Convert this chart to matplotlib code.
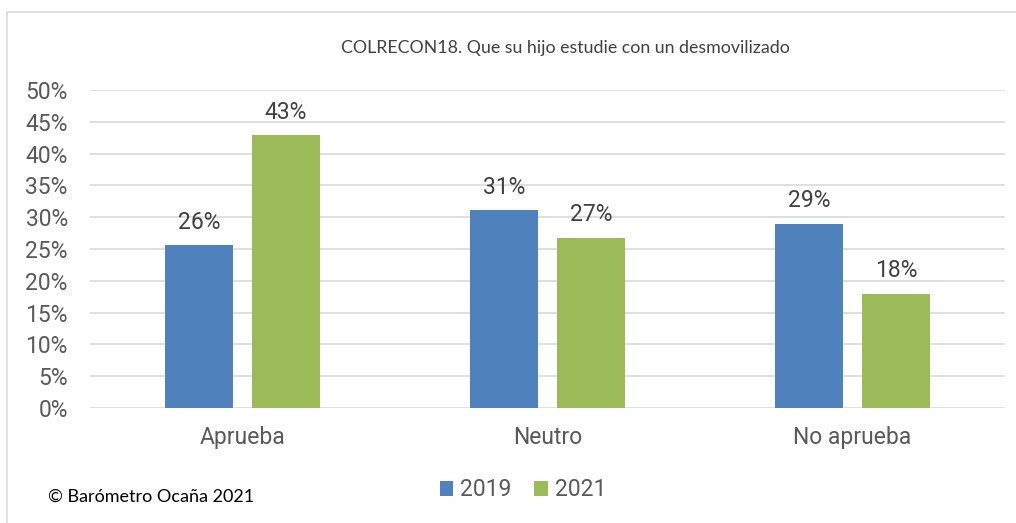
import matplotlib.pyplot as plt
from matplotlib.patches import Rectangle
import numpy as np

# Data
categories = ["Aprueba", "Neutro", "No aprueba"]
values_2019 = [25.6, 31.1, 29.0]
values_2021 = [42.9, 26.8, 18.0]
labels_2019 = ["26%", "31%", "29%"]
labels_2021 = ["43%", "27%", "18%"]
series_names = ["2019", "2021"]

blue = "#4F81BD"
green = "#9BBB59"
text_grey = "#595959"
fs = 16.5

fig = plt.figure(figsize=(10.16, 5.23), dpi=100)
ax = fig.add_axes([90 / 1016, 1 - 408 / 523, 915 / 1016, 318 / 523])

x = np.arange(len(categories))
w = 0.223
off = 0.143
b1 = ax.bar(x - off, values_2019, w, color=blue, label=series_names[0], zorder=3)
b2 = ax.bar(x + off, values_2021, w, color=green, label=series_names[1], zorder=3)

for bars, labs in ((b1, labels_2019), (b2, labels_2021)):
    for bar, lab in zip(bars, labs):
        ax.annotate(lab, (bar.get_x() + bar.get_width() / 2, bar.get_height()),
                    xytext=(0, 8), textcoords="offset points", ha="center", va="bottom",
                    fontsize=fs, color="#404040", family="Roboto")

ax.set_xlim(-0.5, 2.5)
ax.set_ylim(0, 50)
ax.set_yticks(range(0, 51, 5))
ax.set_yticklabels([f"{v}%" for v in range(0, 51, 5)])
ax.set_xticks(x)
ax.set_xticklabels(categories)
ax.yaxis.grid(True, color="#D9D9D9", linewidth=1.2, zorder=0)
ax.set_axisbelow(True)
for s in ax.spines.values():
    s.set_visible(False)
ax.tick_params(length=0, labelsize=fs, labelcolor=text_grey)
ax.tick_params(axis="y", pad=16)
ax.tick_params(axis="x", pad=13)
for t in ax.get_xticklabels() + ax.get_yticklabels():
    t.set_family("Roboto")

fig.text(565 / 1016, 1 - 48 / 523, "COLRECON18. Que su hijo estudie con un desmovilizado",
         ha="center", va="center", fontsize=12.8, color="#404040", family="Lato")
fig.text(48 / 1016, 1 - 497 / 523, "© Barómetro Ocaña 2021",
         ha="left", va="center", fontsize=13, color="black", family="Lato")

leg = fig.legend(loc="center", bbox_to_anchor=(523 / 1016, 1 - 490 / 523), ncol=2,
                 frameon=False, handlelength=0.6, handleheight=0.6,
                 handletextpad=0.3, columnspacing=1.0,
                 prop={"family": "Roboto", "size": fs})
for t in leg.get_texts():
    t.set_color(text_grey)

# outer chart frame
fig.patches.append(Rectangle((7 / 1016, -0.1), 1.2, 1 - 12 / 523 + 0.1,
                             transform=fig.transFigure, fill=False,
                             edgecolor="#D9D9D9", linewidth=1.2))

fig.savefig("out.png", dpi=100)
